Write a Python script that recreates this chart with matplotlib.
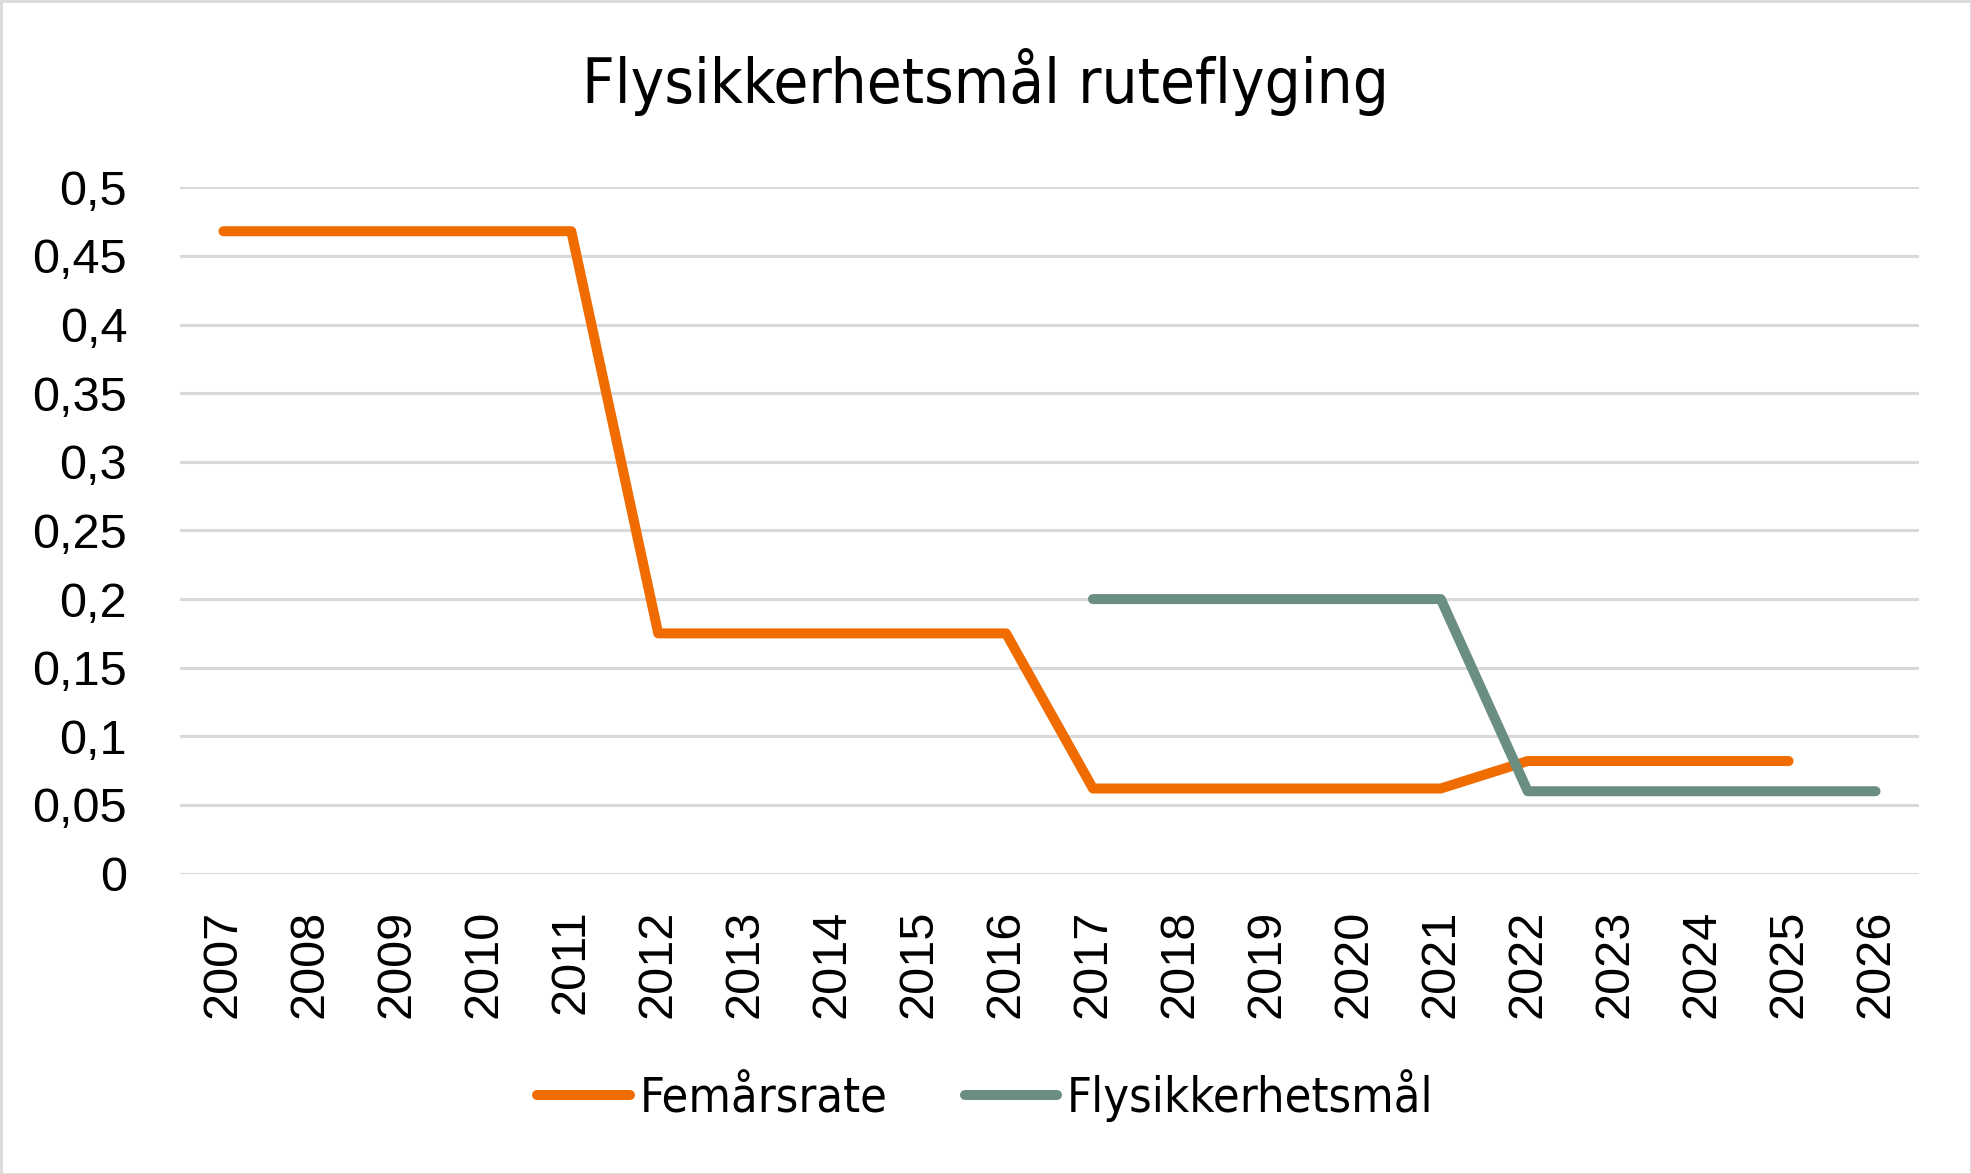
import matplotlib
matplotlib.use("Agg")
import matplotlib.pyplot as plt
from matplotlib.patches import Rectangle
from matplotlib import font_manager as fm
import numpy as np

years = [str(y) for y in range(2007, 2027)]
femaarsrate = [0.468, 0.468, 0.468, 0.468, 0.468, 0.175, 0.175, 0.175, 0.175, 0.175,
               0.062, 0.062, 0.062, 0.062, 0.062, 0.082, 0.082, 0.082, 0.082, None]
maal = [None] * 10 + [0.2, 0.2, 0.2, 0.2, 0.2, 0.06, 0.06, 0.06, 0.06, 0.06]
yticks = [0, 0.05, 0.1, 0.15, 0.2, 0.25, 0.3, 0.35, 0.4, 0.45, 0.5]
ytick_labels = ["0", "0,05", "0,1", "0,15", "0,2", "0,25", "0,3", "0,35", "0,4", "0,45", "0,5"]


def pick_narrow():
    cands = []
    for f in fm.fontManager.ttflist:
        n = f.name.lower()
        fn = f.fname.lower()
        if f.style != "normal" or f.weight not in (400, "normal", "regular"):
            continue
        score = None
        if "liberation sans narrow" in n or "liberationsansnarrow-regular" in fn:
            score = 0
        elif "dejavusanscondensed.ttf" in fn:
            score = 1
        elif ("condensed" in n or "condensed" in fn or "narrow" in n) and "bold" not in fn and "italic" not in fn:
            score = 2
        if score is not None:
            cands.append((score, f.fname))
    cands.sort()
    if cands:
        return fm.FontProperties(fname=cands[0][1])
    return fm.FontProperties(family="DejaVu Sans", stretch="condensed")


narrow = pick_narrow()

W, H = 1971, 1174
fig = plt.figure(figsize=(W / 100, H / 100), dpi=100)
fig.patches.append(Rectangle((0.5 / W, 0.5 / H), 1 - 1.0 / W, 1 - 1.0 / H, transform=fig.transFigure,
                             fill=False, edgecolor="#D9D9D9", linewidth=2))

ax = fig.add_axes([180 / W, 300.4 / H, (1919 - 180) / W, (986.7 - 300.4) / H])
x = np.arange(len(years))
f = np.array([np.nan if v is None else v for v in femaarsrate], dtype=float)
m = np.array([np.nan if v is None else v for v in maal], dtype=float)
l1, = ax.plot(x, f, color="#F06C00", linewidth=7.2, solid_capstyle="round", solid_joinstyle="round",
              label="Femårsrate", zorder=3)
l2, = ax.plot(x, m, color="#6A8E7F", linewidth=7.2, solid_capstyle="round", solid_joinstyle="round",
              label="Flysikkerhetsmål", zorder=3)

ax.set_xlim(-0.5, len(years) - 0.5)
ax.set_ylim(0, 0.5)
ax.set_yticks(yticks)
ax.set_yticklabels(ytick_labels, fontfamily="Liberation Sans", fontsize=35)
ax.set_xticks(x)
ax.set_xticklabels(years, rotation=90, fontfamily="Liberation Sans", fontsize=35)
ax.tick_params(axis="y", length=0, pad=38)
ax.tick_params(axis="x", length=0, pad=26)
for s in ax.spines.values():
    s.set_visible(False)
ax.grid(axis="y", color="#D9D9D9", linewidth=2.2, zorder=0)
ax.set_axisbelow(True)

tp = narrow.copy()
tp.set_size(50)
title = fig.text(0.5, 1 - 82 / H, "Flysikkerhetsmål ruteflyging", ha="center", va="center",
                 fontproperties=tp)

lp = narrow.copy()
lp.set_size(35)
leg = fig.legend(handles=[l1, l2], loc="center", bbox_to_anchor=(0.5, 1 - 1096 / H), ncol=2,
                 frameon=False, prop=lp,
                 handlelength=1.9, handletextpad=0.2, columnspacing=1.6)

# fit title / legend text width to the reference widths if the narrow font differs
fig.canvas.draw()
r = fig.canvas.get_renderer()
tw = title.get_window_extent(r).width
if tw > 0:
    tp.set_size(50 * min(1.15, max(0.6, 808 / tw)))
    title.set_fontproperties(tp)
lw = leg.get_texts()[0].get_window_extent(r).width
if lw > 0:
    s = 35 * min(1.15, max(0.6, 248 / lw))
    for t in leg.get_texts():
        t.set_fontsize(s)

fig.savefig("out.png", dpi=100)
